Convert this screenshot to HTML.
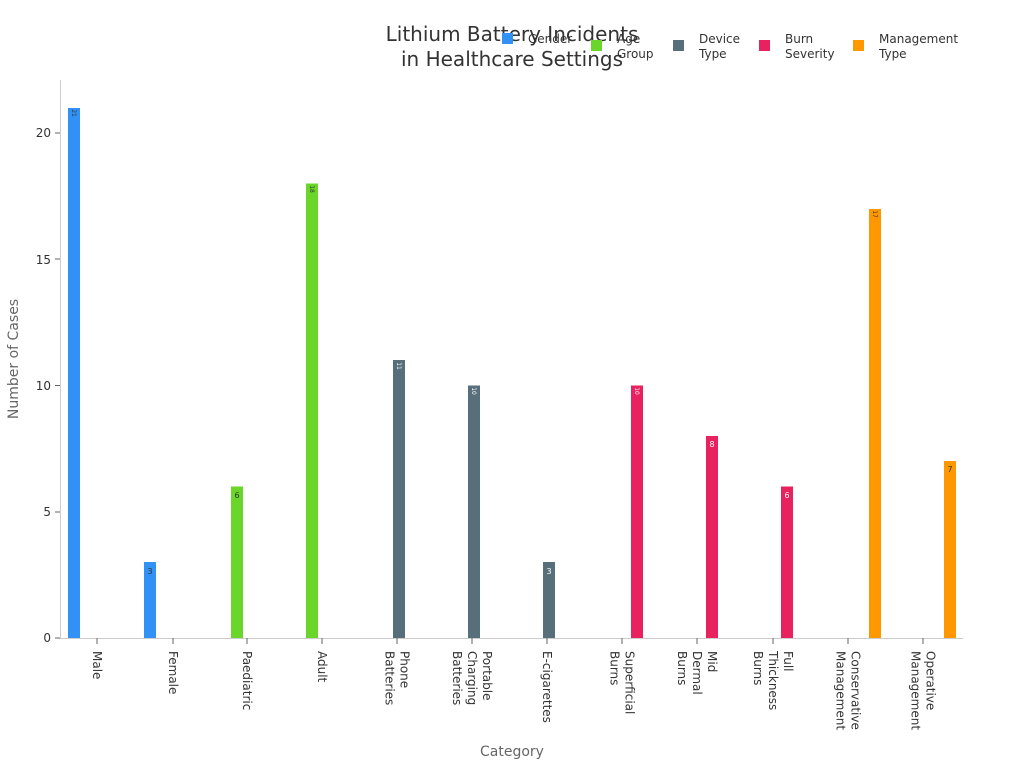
<!DOCTYPE html>
<html><head><meta charset="utf-8"><style>body{margin:0;background:#fff}svg{display:block;font-family:"DejaVu Sans","Liberation Sans",sans-serif}</style></head><body>
<svg width="1024" height="768" viewBox="0 0 1024 768">
<rect width="1024" height="768" fill="#fff"/>
<text x="512" y="41" text-anchor="middle" font-size="20" fill="#333">Lithium Battery Incidents</text>
<text x="512" y="66" text-anchor="middle" font-size="20" fill="#333">in Healthcare Settings</text>
<g font-size="12" fill="#333">
<rect x="502" y="33" width="11" height="11" fill="#3291f5"/><text x="528" y="43">Gender</text>
<rect x="591" y="40" width="11" height="11" fill="#6bd62a"/><text x="617" y="43">Age</text><text x="617" y="58">Group</text>
<rect x="673" y="40" width="11" height="11" fill="#566f7a"/><text x="699" y="43">Device</text><text x="699" y="58">Type</text>
<rect x="759" y="40" width="11" height="11" fill="#e8215f"/><text x="785" y="43">Burn</text><text x="785" y="58">Severity</text>
<rect x="853" y="40" width="11" height="11" fill="#ff9800"/><text x="879" y="43">Management</text><text x="879" y="58">Type</text>
</g>
<line x1="60.5" y1="80" x2="60.5" y2="638" stroke="#ccc"/>
<line x1="60" y1="638.5" x2="963" y2="638.5" stroke="#ccc"/>
<g font-size="12" fill="#333" text-anchor="end">
<line x1="55" x2="60" y1="638" y2="638" stroke="#666"/><text x="51" y="642">0</text>
<line x1="55" x2="60" y1="512" y2="512" stroke="#666"/><text x="51" y="516">5</text>
<line x1="55" x2="60" y1="385.5" y2="385.5" stroke="#666"/><text x="51" y="390">10</text>
<line x1="55" x2="60" y1="259" y2="259" stroke="#666"/><text x="51" y="264">15</text>
<line x1="55" x2="60" y1="133" y2="133" stroke="#666"/><text x="51" y="137">20</text>
</g>
<text transform="translate(18,359) rotate(-90)" text-anchor="middle" font-size="14" fill="#666">Number of Cases</text>
<text x="512" y="756" text-anchor="middle" font-size="14" fill="#666">Category</text>
<g stroke="#666">
<line x1="97" x2="97" y1="638" y2="644"/><line x1="173" x2="173" y1="638" y2="644"/><line x1="247" x2="247" y1="638" y2="644"/><line x1="322" x2="322" y1="638" y2="644"/><line x1="397" x2="397" y1="638" y2="644"/><line x1="472" x2="472" y1="638" y2="644"/><line x1="547" x2="547" y1="638" y2="644"/><line x1="622" x2="622" y1="638" y2="644"/><line x1="697" x2="697" y1="638" y2="644"/><line x1="773" x2="773" y1="638" y2="644"/><line x1="848" x2="848" y1="638" y2="644"/><line x1="923" x2="923" y1="638" y2="644"/>
</g>
<g font-size="12" fill="#333">
<text transform="translate(97,651) rotate(90)" y="4">Male</text>
<text transform="translate(173,651) rotate(90)" y="4">Female</text>
<text transform="translate(247,651) rotate(90)" y="4">Paediatric</text>
<text transform="translate(322,651) rotate(90)" y="4">Adult</text>
<text transform="translate(397,651) rotate(90)"><tspan x="0" y="-3.5">Phone</tspan><tspan x="0" y="11.5">Batteries</tspan></text>
<text transform="translate(472,651) rotate(90)"><tspan x="0" y="-11">Portable</tspan><tspan x="0" y="4">Charging</tspan><tspan x="0" y="19">Batteries</tspan></text>
<text transform="translate(547,651) rotate(90)" y="4">E-cigarettes</text>
<text transform="translate(622,651) rotate(90)"><tspan x="0" y="-3.5">Superficial</tspan><tspan x="0" y="11.5">Burns</tspan></text>
<text transform="translate(697,651) rotate(90)"><tspan x="0" y="-11">Mid</tspan><tspan x="0" y="4">Dermal</tspan><tspan x="0" y="19">Burns</tspan></text>
<text transform="translate(773,651) rotate(90)"><tspan x="0" y="-11">Full</tspan><tspan x="0" y="4">Thickness</tspan><tspan x="0" y="19">Burns</tspan></text>
<text transform="translate(848,651) rotate(90)"><tspan x="0" y="-3.5">Conservative</tspan><tspan x="0" y="11.5">Management</tspan></text>
<text transform="translate(923,651) rotate(90)"><tspan x="0" y="-3.5">Operative</tspan><tspan x="0" y="11.5">Management</tspan></text>
</g>
<g>
<rect x="68" y="108" width="12" height="530" fill="#3291f5"/>
<rect x="144" y="562" width="12" height="76" fill="#3291f5"/>
<rect x="231" y="486.5" width="12" height="151.5" fill="#6bd62a"/>
<rect x="306" y="183.5" width="12" height="454.5" fill="#6bd62a"/>
<rect x="393" y="360" width="12" height="278" fill="#566f7a"/>
<rect x="468" y="385.5" width="12" height="252.5" fill="#566f7a"/>
<rect x="543" y="562" width="12" height="76" fill="#566f7a"/>
<rect x="631" y="385.5" width="12" height="252.5" fill="#e8215f"/>
<rect x="706" y="436" width="12" height="202" fill="#e8215f"/>
<rect x="781" y="486.5" width="12" height="151.5" fill="#e8215f"/>
<rect x="869" y="209" width="12" height="429" fill="#ff9800"/>
<rect x="944" y="461" width="12" height="177" fill="#ff9800"/>
</g>
<g font-size="8" text-anchor="middle">
<text x="150" y="574" fill="#333">3</text>
<text x="237" y="498" fill="#333">6</text>
<text x="549" y="574" fill="#fff">3</text>
<text x="712" y="447" fill="#fff">8</text>
<text x="787" y="498" fill="#fff">6</text>
<text x="950" y="472" fill="#333">7</text>
<g font-size="6">
<text transform="translate(74,113) rotate(90)" y="2" fill="#333">21</text>
<text transform="translate(312,189) rotate(90)" y="2" fill="#333">18</text>
<text transform="translate(399,366) rotate(90)" y="2" fill="#fff">11</text>
<text transform="translate(474,391) rotate(90)" y="2" fill="#fff">10</text>
<text transform="translate(637,391) rotate(90)" y="2" fill="#fff">10</text>
<text transform="translate(875,214) rotate(90)" y="2" fill="#333">17</text>
</g>
</g>
</svg>
</body></html>
